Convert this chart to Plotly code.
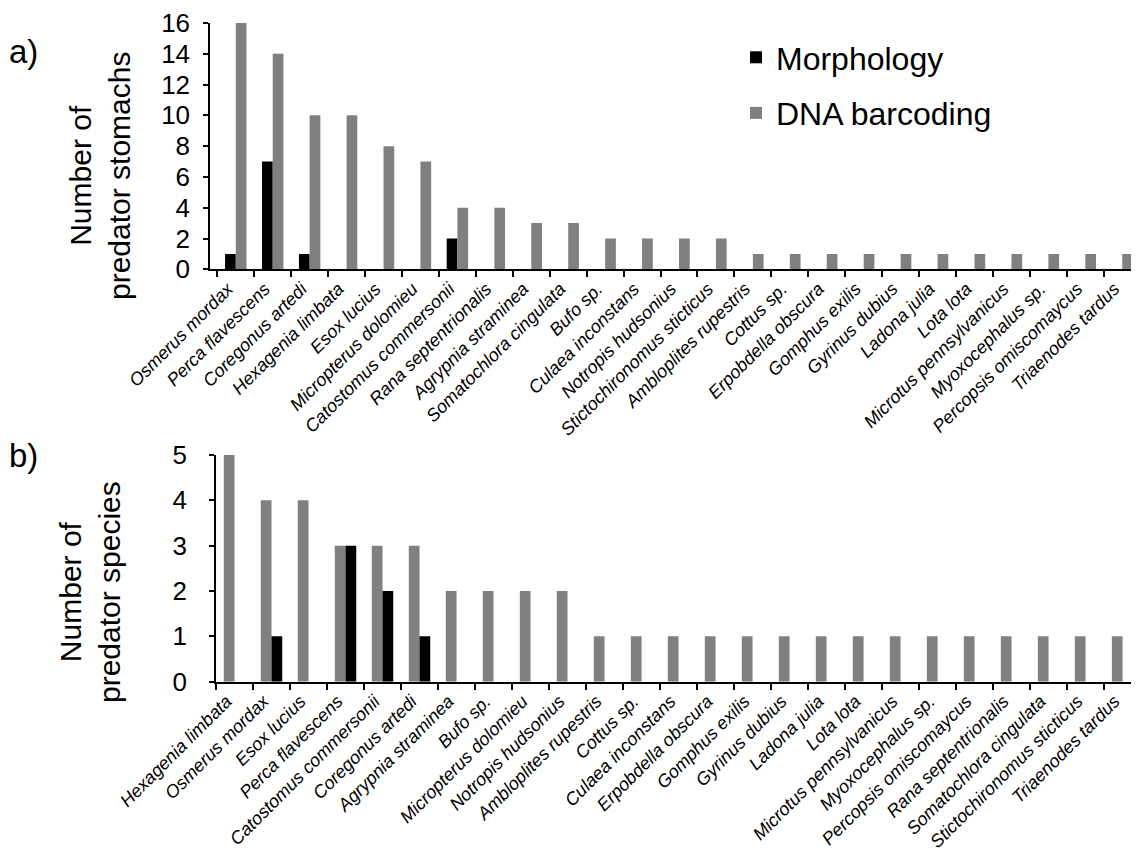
import plotly.graph_objects as go
from plotly.subplots import make_subplots

# ---------------- data ----------------
cats_a = ["Osmerus mordax", "Perca flavescens", "Coregonus artedi", "Hexagenia limbata",
          "Esox lucius", "Micropterus dolomieu", "Catostomus commersonii", "Rana septentrionalis",
          "Agrypnia straminea", "Somatochlora cingulata", "Bufo sp.", "Culaea inconstans",
          "Notropis hudsonius", "Stictochironomus sticticus", "Ambloplites rupestris", "Cottus sp.",
          "Erpobdella obscura", "Gomphus exilis", "Gyrinus dubius", "Ladona julia", "Lota lota",
          "Microtus pennsylvanicus", "Myoxocephalus sp.", "Percopsis omiscomaycus", "Triaenodes tardus"]
morph_a = [1, 7, 1, 0, 0, 0, 2, 0, 0, 0, 0, 0, 0, 0, 0, 0, 0, 0, 0, 0, 0, 0, 0, 0, 0]
dna_a = [16, 14, 10, 10, 8, 7, 4, 4, 3, 3, 2, 2, 2, 2, 1, 1, 1, 1, 1, 1, 1, 1, 1, 1, 1]

cats_b = ["Hexagenia limbata", "Osmerus mordax", "Esox lucius", "Perca flavescens",
          "Catostomus commersonii", "Coregonus artedi", "Agrypnia straminea", "Bufo sp.",
          "Micropterus dolomieu", "Notropis hudsonius", "Ambloplites rupestris", "Cottus sp.",
          "Culaea inconstans", "Erpobdella obscura", "Gomphus exilis", "Gyrinus dubius",
          "Ladona julia", "Lota lota", "Microtus pennsylvanicus", "Myoxocephalus sp.",
          "Percopsis omiscomaycus", "Rana septentrionalis", "Somatochlora cingulata",
          "Stictochironomus sticticus", "Triaenodes tardus"]
dna_b = [5, 4, 4, 3, 3, 3, 2, 2, 2, 2, 1, 1, 1, 1, 1, 1, 1, 1, 1, 1, 1, 1, 1, 1, 1]
morph_b = [0, 1, 0, 3, 2, 1, 0, 0, 0, 0, 0, 0, 0, 0, 0, 0, 0, 0, 0, 0, 0, 0, 0, 0, 0]

yticks_a = [0, 2, 4, 6, 8, 10, 12, 14, 16]
yticks_b = [0, 1, 2, 3, 4, 5]

W, H = 1139, 862
OFF = 8  # page body margin offset
FONT = "Liberation Sans, Arial, sans-serif"
BLACK = "#000000"
GRAY = "#808080"


def px_x(p):
    return (p - OFF) / W


def px_y(p):
    return 1 - (p - OFF) / H


fig = make_subplots(rows=2, cols=1)

fig.add_trace(go.Bar(x=cats_a, y=morph_a, name="Morphology", marker=dict(color=BLACK, line=dict(width=0)),
                     legendgroup="m"), row=1, col=1)
fig.add_trace(go.Bar(x=cats_a, y=dna_a, name="DNA barcoding", marker=dict(color=GRAY, line=dict(width=0)),
                     legendgroup="d"), row=1, col=1)
fig.add_trace(go.Bar(x=cats_b, y=dna_b, name="DNA barcoding", marker=dict(color=GRAY, line=dict(width=0)),
                     showlegend=False), row=2, col=1)
fig.add_trace(go.Bar(x=cats_b, y=morph_b, name="Morphology", marker=dict(color=BLACK, line=dict(width=0)),
                     showlegend=False), row=2, col=1)

xcommon = dict(type="category", tickson="boundaries", ticks="outside", ticklen=6, tickwidth=2,
               tickcolor="black", showline=True, linecolor="black", linewidth=2, showgrid=False,
               tickangle=-45, tickfont=dict(family=FONT, size=18, color="black"), zeroline=False,
               automargin=False, ticklabelshift=-8, ticklabeloverflow="allow")
ycommon = dict(ticks="outside", ticklen=5, tickwidth=1.5, tickcolor="black", showline=True,
               linecolor="black", linewidth=1.5, showgrid=False, zeroline=False, automargin=False,
               ticklabeloverflow="allow", tickfont=dict(family=FONT, size=26, color="black"))

fig.update_layout(
    xaxis=dict(**xcommon, domain=[px_x(210), 1], range=[-0.698, 24.67],
               tickvals=cats_a, ticktext=[f"<i>{c}</i>" for c in cats_a]),
    yaxis=dict(**ycommon, domain=[px_y(269.3), px_y(23)], range=[0, 16], tickvals=yticks_a,
               ticklabelstandoff=8),
    xaxis2=dict(**xcommon, domain=[px_x(216), 1], range=[-0.5, 24.66],
                tickvals=cats_b, ticktext=[f"<i>{c}</i>" for c in cats_b]),
    yaxis2=dict(**ycommon, domain=[px_y(681.7), px_y(455)], range=[0, 5], tickvals=yticks_b,
                ticklabelstandoff=17),
    barmode="group", bargap=0.42, bargroupgap=0,
    width=W, height=H, margin=dict(l=0, r=0, t=0, b=0, autoexpand=False),
    plot_bgcolor="white", paper_bgcolor="white",
    font=dict(family=FONT, color="black"),
    legend=dict(x=px_x(736), y=px_y(30), xanchor="left", yanchor="top",
                font=dict(family=FONT, size=32, color="black"), traceorder="grouped",
                tracegroupgap=11, bgcolor="rgba(0,0,0,0)", itemwidth=30),
    showlegend=True,
)

fig.add_annotation(text="a)", x=px_x(7), y=px_y(52), xref="paper", yref="paper", xanchor="left",
                   yanchor="middle", showarrow=False, font=dict(family=FONT, size=33, color="black"))
fig.add_annotation(text="b)", x=px_x(7), y=px_y(455), xref="paper", yref="paper", xanchor="left",
                   yanchor="middle", showarrow=False, font=dict(family=FONT, size=33, color="black"))
fig.add_annotation(text="Number of<br>predator stomachs", x=px_x(100), y=px_y(176), xref="paper",
                   yref="paper", xanchor="center", yanchor="middle", textangle=-90, showarrow=False,
                   font=dict(family=FONT, size=30, color="black"))
fig.add_annotation(text="Number of<br>predator species", x=px_x(90), y=px_y(592), xref="paper",
                   yref="paper", xanchor="center", yanchor="middle", textangle=-90, showarrow=False,
                   font=dict(family=FONT, size=30, color="black"))

fig.write_html("out.html")
